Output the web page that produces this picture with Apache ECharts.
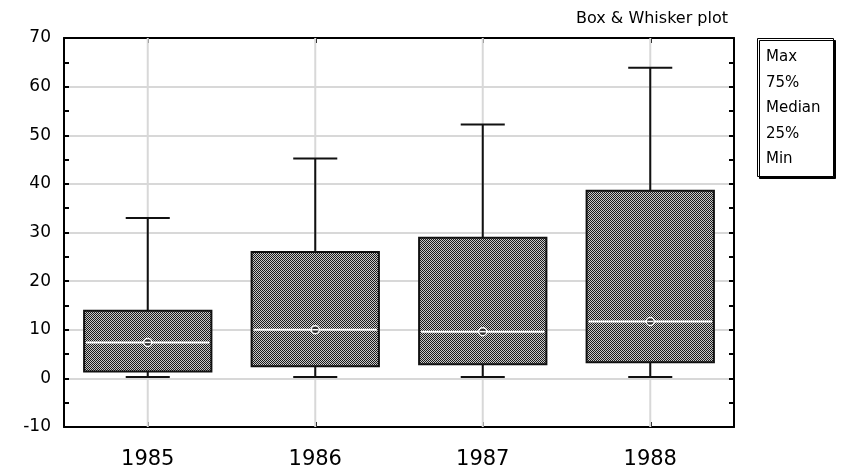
<!DOCTYPE html>
<html>
<head>
<meta charset="utf-8">
<script src="https://cdn.jsdelivr.net/npm/echarts@6/dist/echarts.min.js"></script>
<style>html,body{margin:0;padding:0;background:#fff}#c{width:843px;height:472px}</style>
</head>
<body>
<div id="c"></div>
<script>
const categories = ['1985', '1986', '1987', '1988'];
const minValues = [0.3, 0.3, 0.3, 0.3];
const q1Values = [1.4, 2.5, 2.9, 3.3];
const medianValues = [7.4, 10.0, 9.6, 11.7];
const q3Values = [13.9, 26.0, 28.9, 38.6];
const maxValues = [33.0, 45.2, 52.2, 63.9];
const yTicks = { min: -10, max: 70, interval: 10 };
const legendLabels = ['Max', '75%', 'Median', '25%', 'Min'];
const titleText = 'Box & Whisker plot';

// dithered fill pattern
const pat = document.createElement('canvas');
pat.width = 2; pat.height = 2;
const pctx = pat.getContext('2d');
pctx.fillStyle = '#c8c8c8'; pctx.fillRect(0, 0, 2, 2);
pctx.fillStyle = '#1a1a1a'; pctx.fillRect(0, 0, 1, 1); pctx.fillRect(1, 1, 1, 1);

const boxData = categories.map((c, i) => [i, minValues[i], q1Values[i], medianValues[i], q3Values[i], maxValues[i]]);

const chart = echarts.init(document.getElementById('c'), null, { renderer: 'canvas' });

const font = '"DejaVu Sans", sans-serif';

const legendGraphics = [{
  type: 'rect', left: 757, top: 38, shape: { width: 76, height: 138 },
  style: { fill: '#fff', stroke: '#000', lineWidth: 1, shadowColor: '#000', shadowOffsetX: 2, shadowOffsetY: 2, shadowBlur: 0 }, z: 10
}].concat(legendLabels.map((t, i) => ({
  type: 'text', left: 766, top: 50 + i * 25.5,
  style: { text: t, fill: '#000', font: '15px ' + font }, z: 11
})));

chart.setOption({
  animation: false,
  title: { text: titleText, right: 110, top: 6, textStyle: { fontSize: 16, fontWeight: 'normal', color: '#000', fontFamily: font } },
  grid: { left: 64, right: 109, top: 38, bottom: 45, containLabel: false },
  xAxis: [{
    type: 'category', data: categories, position: 'bottom', boundaryGap: true,
    axisLine: { show: true, onZero: false, lineStyle: { color: '#000', width: 2 } },
    axisTick: { show: true, inside: true, alignWithLabel: true, length: 5, lineStyle: { color: '#000', width: 2 } },
    axisLabel: { fontSize: 21, color: '#000', margin: 22, fontFamily: font },
    splitLine: { show: false }
  }, {
    type: 'category', data: categories, position: 'top', boundaryGap: true,
    axisLine: { show: true, onZero: false, lineStyle: { color: '#000', width: 2 } },
    axisTick: { show: true, inside: true, alignWithLabel: true, length: 5, lineStyle: { color: '#000', width: 2 } },
    axisLabel: { show: false }, splitLine: { show: false }
  }],
  yAxis: [{
    type: 'value', min: yTicks.min, max: yTicks.max, interval: yTicks.interval, position: 'left',
    axisLine: { show: true, onZero: false, lineStyle: { color: '#000', width: 2 } },
    axisTick: { show: true, inside: true, length: 5, lineStyle: { color: '#000', width: 2 } },
    minorTick: { show: true, splitNumber: 2, length: 5, lineStyle: { color: '#000', width: 2 } },
    axisLabel: { fontSize: 17, color: '#000', margin: 13, fontFamily: font },
    splitLine: { show: true, lineStyle: { color: '#d8d8d8', width: 2 } }
  }, {
    type: 'value', min: yTicks.min, max: yTicks.max, interval: yTicks.interval, position: 'right',
    axisLine: { show: true, onZero: false, lineStyle: { color: '#000', width: 2 } },
    axisTick: { show: true, inside: true, length: 5, lineStyle: { color: '#000', width: 2 } },
    minorTick: { show: true, splitNumber: 2, length: 5, lineStyle: { color: '#000', width: 2 } },
    axisLabel: { show: false }, splitLine: { show: false }
  }],
  graphic: legendGraphics,
  series: [{
    type: 'custom', z: 1, data: categories.map((c, i) => [i]),
    renderItem: function (params, api) {
      const cs = params.coordSys;
      const x = api.coord([api.value(0), 0])[0];
      return { type: 'line', shape: { x1: x, y1: cs.y, x2: x, y2: cs.y + cs.height }, style: { stroke: '#d8d8d8', lineWidth: 2 } };
    }
  }, {
    type: 'custom', z: 5, data: boxData,
    renderItem: function (params, api) {
      const i = api.value(0);
      const pMin = api.coord([i, api.value(1)]);
      const pQ1 = api.coord([i, api.value(2)]);
      const pMed = api.coord([i, api.value(3)]);
      const pQ3 = api.coord([i, api.value(4)]);
      const pMax = api.coord([i, api.value(5)]);
      const band = api.size([1, 0])[0];
      const x = pMed[0];
      const bw = band * 0.76;
      const cw = band * 0.263;
      const ls = { stroke: '#111', lineWidth: 2 };
      return {
        type: 'group',
        children: [
          { type: 'line', shape: { x1: x, y1: pMax[1], x2: x, y2: pQ3[1] }, style: ls },
          { type: 'line', shape: { x1: x, y1: pQ1[1], x2: x, y2: pMin[1] }, style: ls },
          { type: 'line', shape: { x1: x - cw / 2, y1: pMax[1], x2: x + cw / 2, y2: pMax[1] }, style: ls },
          { type: 'line', shape: { x1: x - cw / 2, y1: pMin[1], x2: x + cw / 2, y2: pMin[1] }, style: ls },
          { type: 'rect', shape: { x: x - bw / 2, y: pQ3[1], width: bw, height: pQ1[1] - pQ3[1] },
            style: { fill: { image: pat, repeat: 'repeat' }, stroke: '#111', lineWidth: 2 } },
          { type: 'line', shape: { x1: x - bw / 2 + 2, y1: pMed[1], x2: x + bw / 2 - 2, y2: pMed[1] }, style: { stroke: '#fff', lineWidth: 2 } },
          { type: 'circle', shape: { cx: x, cy: pMed[1], r: 4 }, style: { fill: '#333', stroke: '#fff', lineWidth: 1.5 } },
          { type: 'line', shape: { x1: x - 3, y1: pMed[1], x2: x + 3, y2: pMed[1] }, style: { stroke: '#fff', lineWidth: 1.5 } }
        ]
      };
    }
  }]
});
</script>
</body>
</html>
